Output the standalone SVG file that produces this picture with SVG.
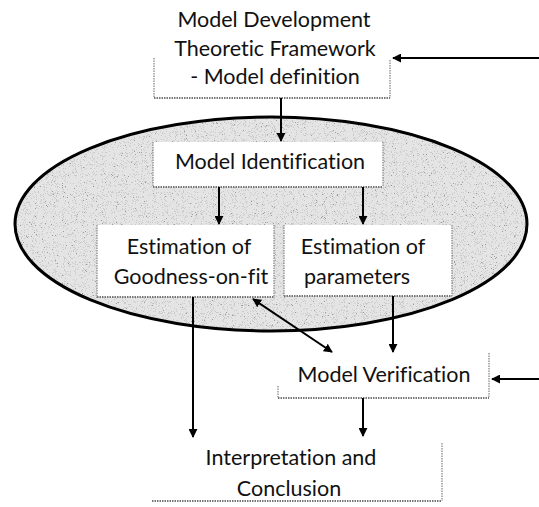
<svg xmlns="http://www.w3.org/2000/svg" width="539" height="507" viewBox="0 0 539 507">
<style>
  text { font-family: Lato, "Liberation Sans", sans-serif; font-size: 21.5px; fill: #111; text-anchor: middle; font-variant-ligatures: none; }
  .edge { fill: none; stroke: #8a8a8a; stroke-width: 1.3; stroke-dasharray: 1.5 1; }
  .edgeb { fill: none; stroke: #777; stroke-width: 2; stroke-dasharray: 1.5 1; }
  .box { fill: #fff; }
  .conn { fill: none; stroke: #000; stroke-width: 2; }
</style>
<defs>
  <marker id="ah" viewBox="0 0 10 10" refX="9" refY="5" markerWidth="4.5" markerHeight="4.5" orient="auto-start-reverse" markerUnits="strokeWidth">
    <path d="M0,0 L10,5 L0,10 z" fill="#000"/>
  </marker>
  <filter id="speck" x="0" y="0" width="1" height="1">
    <feTurbulence type="fractalNoise" baseFrequency="1.1" numOctaves="2" seed="7" result="t"/>
    <feColorMatrix in="t" type="matrix" values="0 0 0 0 0.25  0 0 0 0 0.25  0 0 0 0 0.25  1 0 0 0 0" result="c"/>
    <feComponentTransfer in="c" result="d"><feFuncA type="discrete" tableValues="0 0 0 0 0 0.3 0.8 1"/></feComponentTransfer>
    <feComposite in="d" in2="SourceGraphic" operator="in"/>
  </filter>
</defs>

<g id="scope">
  <ellipse cx="271" cy="224" rx="256" ry="107" fill="#e4e4e4"/>
  <ellipse cx="271" cy="224" rx="256" ry="107" fill="#000" filter="url(#speck)"/>
  <ellipse cx="271" cy="224" rx="256" ry="107" fill="none" stroke="#000" stroke-width="3"/>
</g>

<g id="model-development">
  <rect class="box" x="154" y="57" width="236" height="41"/>
  <path class="edge" d="M154,58 V98"/>
  <path class="edge" d="M390,60 V98"/>
  <path class="edgeb" d="M154,98 H390"/>
  <text x="274" y="27">Model Development</text>
  <text x="275" y="56">Theoretic Framework</text>
  <text x="275" y="84">- Model definition</text>
</g>

<g id="model-identification">
  <rect class="box" x="153" y="142" width="230" height="45"/>
  <path class="edge" d="M153,142 V187 M383,142 V187"/>
  <path class="edgeb" d="M153,187 H383"/>
  <text x="270" y="169">Model Identification</text>
</g>

<g id="goodness">
  <rect class="box" x="97" y="225" width="177" height="72"/>
  <path class="edge" d="M97,225 V297 M274,225 V297"/>
  <path class="edgeb" d="M97,297 H274"/>
  <text x="189" y="254">Estimation of</text>
  <text x="191" y="284">Goodness-on-fit</text>
</g>

<g id="parameters">
  <rect class="box" x="284" y="225" width="168" height="71"/>
  <path class="edge" d="M284,225 V296 M452,225 V296"/>
  <path class="edgeb" d="M284,296 H452"/>
  <text x="363" y="254">Estimation of</text>
  <text x="357" y="284">parameters</text>
</g>

<g id="model-verification">
  <rect class="box" x="278" y="354" width="211" height="44"/>
  <path class="edge" d="M278,386 V398 M489,353 V398"/>
  <path class="edgeb" d="M278,398 H489"/>
  <text x="384" y="382">Model Verification</text>
</g>

<g id="interpretation">
  <rect class="box" x="152" y="443" width="290" height="58"/>
  <path class="edge" d="M442,443 V501"/>
  <path class="edgeb" d="M152,501 H442"/>
  <text x="291" y="465">Interpretation and</text>
  <text x="289" y="496">Conclusion</text>
</g>

<g id="connectors">
  <line class="conn" x1="281" y1="98" x2="281" y2="141" marker-end="url(#ah)"/>
  <line class="conn" x1="219" y1="187" x2="219" y2="224" marker-end="url(#ah)"/>
  <line class="conn" x1="363" y1="187" x2="363" y2="224" marker-end="url(#ah)"/>
  <line class="conn" x1="193" y1="297" x2="193" y2="437" marker-end="url(#ah)"/>
  <line class="conn" x1="393" y1="296" x2="393" y2="352" marker-end="url(#ah)"/>
  <line class="conn" x1="253" y1="299" x2="332" y2="352" marker-start="url(#ah)" marker-end="url(#ah)"/>
  <line class="conn" x1="363" y1="398" x2="363" y2="436" marker-end="url(#ah)"/>
  <line class="conn" x1="539" y1="58" x2="393" y2="58" marker-end="url(#ah)"/>
  <line class="conn" x1="539" y1="379" x2="492" y2="379" marker-end="url(#ah)"/>
</g>
</svg>
